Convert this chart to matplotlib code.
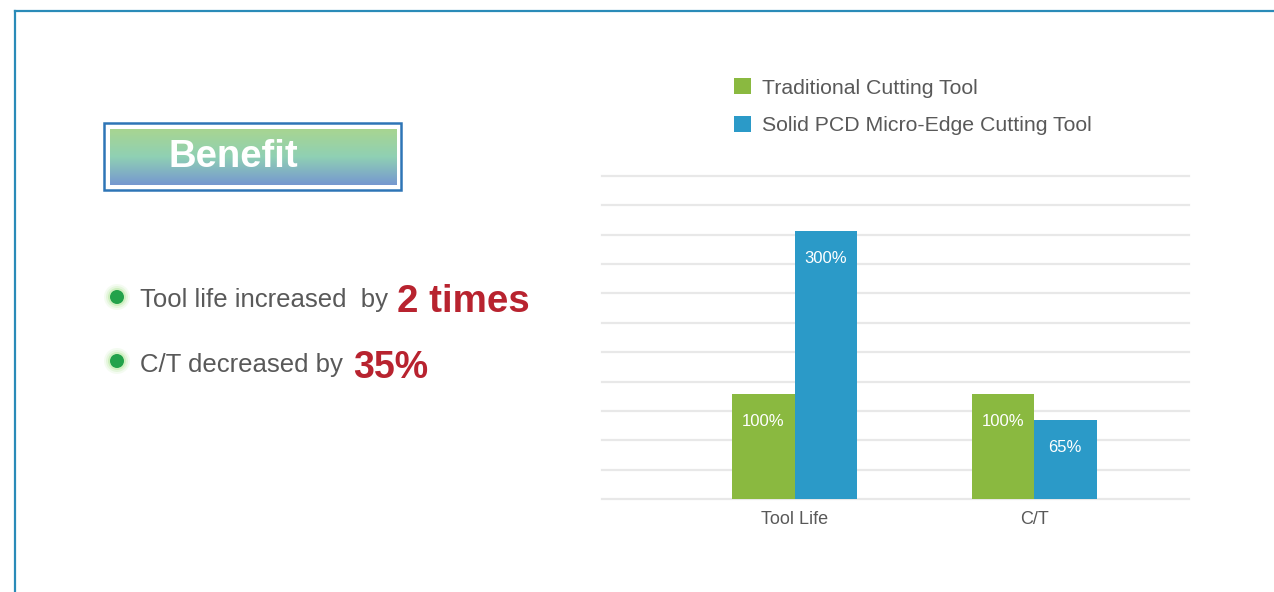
import matplotlib.pyplot as plt
import numpy as np
from matplotlib.patches import Rectangle, Circle

plt.rcParams['font.family'] = ['Liberation Sans', 'DejaVu Sans']

# chart data (bar heights, 10 units per gridline)
categories = ["Tool Life", "C/T"]
series_names = ["Traditional Cutting Tool", "Solid PCD Micro-Edge Cutting Tool"]
traditional = [35.7, 35.7]
pcd = [91.2, 26.9]
traditional_labels = ["100%", "100%"]
pcd_labels = ["300%", "65%"]

GREEN = "#8ab940"
BLUE = "#2b9ac8"
GREY = "#595959"
RED = "#b8232f"

W, H = 1274, 592
fig = plt.figure(figsize=(W / 100, H / 100), dpi=100)

# full-figure overlay in pixel coordinates for the decorations
deco = fig.add_axes([0, 0, 1, 1])
deco.set_xlim(0, W)
deco.set_ylim(H, 0)
deco.axis("off")

# outer frame (top + left lines)
deco.plot([15, W], [11, 11], color="#2a8bb8", lw=1.6)
deco.plot([15, 15], [11, H], color="#2a8bb8", lw=1.6)

# "Benefit" box
deco.add_patch(Rectangle((104, 123), 297, 67, fill=False, ec="#2e75b6", lw=1.8))
grad = np.array([[168, 213, 145], [143, 208, 180], [118, 152, 208]]) / 255.0
t = np.linspace(0, 1, 100)
cols = np.empty((100, 1, 3))
for c in range(3):
    cols[:, 0, c] = np.interp(t, [0, 0.5, 1], grad[:, c])
deco.imshow(cols, extent=[110, 397, 185, 129], aspect="auto", zorder=1)
deco.set_xlim(0, W)
deco.set_ylim(H, 0)
deco.text(233, 157, "Benefit", color="white", fontsize=27.5, fontweight="bold",
          ha="center", va="center", zorder=3)

# bullet points
for cy in (297, 361):
    for r, a in ((13, 0.10), (11, 0.16), (9, 0.3)):
        deco.add_patch(Circle((117, cy), r, color="#9be07a", alpha=a, lw=0))
    deco.add_patch(Circle((117, cy), 7, color="#22a24a", lw=0, zorder=3))

deco.text(140, 307, "Tool life increased  by", color=GREY, fontsize=18.5, va="baseline")
deco.text(397, 312, "2 times", color=RED, fontsize=27.7, fontweight="bold", va="baseline")
deco.text(140, 372, "C/T decreased by", color=GREY, fontsize=18.5, va="baseline")
deco.text(353, 378, "35%", color=RED, fontsize=27, fontweight="bold", va="baseline")

# bar chart
ax = fig.add_axes([602 / W, (H - 499) / H, 587 / W, 323 / H])
x = np.arange(len(categories))
width = 0.261
b1 = ax.bar(x - width / 2, traditional, width, color=GREEN, label=series_names[0], zorder=2)
b2 = ax.bar(x + width / 2, pcd, width, color=BLUE, label=series_names[1], zorder=2)

for bars, labels in ((b1, traditional_labels), (b2, pcd_labels)):
    for rect, lab in zip(bars, labels):
        ax.annotate(lab, (rect.get_x() + rect.get_width() / 2, rect.get_height()),
                    xytext=(0, -20), textcoords="offset points", ha="center", va="center",
                    color="white", fontsize=12, zorder=3)

ax.set_xlim(-0.804, 1.647)
ax.set_ylim(0, 110)
ax.set_yticks(np.arange(0, 111, 10))
ax.yaxis.grid(True, color="#e8e8e8", lw=1.6, zorder=0)
for gl in ax.get_ygridlines():
    gl.set_clip_on(False)
ax.set_axisbelow(True)
ax.tick_params(axis="y", left=False, labelleft=False)
ax.set_xticks(x)
ax.set_xticklabels(categories, color=GREY, fontsize=13)
ax.tick_params(axis="x", length=0, pad=8.5)
for s in ax.spines.values():
    s.set_visible(False)

fig.legend(handles=[b1, b2], loc="upper left", bbox_to_anchor=(734 / W, 1 - 78 / H),
           frameon=False, fontsize=15.3, handlelength=0.8, handleheight=0.8,
           handletextpad=0.5, labelspacing=0.86, labelcolor=GREY, borderaxespad=0,
           borderpad=0)

fig.savefig("out.png", dpi=100)
